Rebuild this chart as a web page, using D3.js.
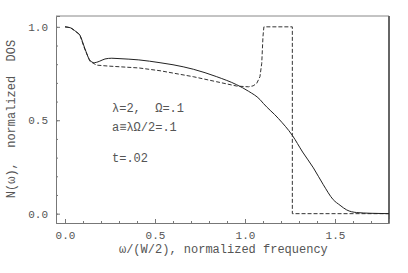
<!DOCTYPE html>
<html>
<head>
<meta charset="utf-8">
<script src="https://cdn.jsdelivr.net/npm/d3@7"></script>
<style>
  body { margin: 0; background: #fff; }
  text { font-family: "Liberation Mono", "DejaVu Sans Mono", monospace; fill: #555; }
</style>
</head>
<body>
<svg width="408" height="273"></svg>
<script>
// solid curve: [omega, N]
const solidOmega = [0.0, 0.03, 0.06, 0.083, 0.11, 0.139, 0.163, 0.19, 0.222, 0.26, 0.3, 0.41, 0.528, 0.6, 0.713, 0.843, 0.954, 1.02, 1.083, 1.102, 1.185, 1.263, 1.32, 1.38, 1.435, 1.49, 1.528, 1.565, 1.62, 1.7, 1.8]
const solidN = [1.0, 0.995, 0.975, 0.955, 0.885, 0.82, 0.808, 0.815, 0.828, 0.832, 0.83, 0.823, 0.808, 0.797, 0.773, 0.733, 0.69, 0.655, 0.611, 0.59, 0.51, 0.419, 0.33, 0.245, 0.155, 0.075, 0.045, 0.02, 0.006, 0.002, 0.0]

// dashed curve
const dashOmega = [0.0, 0.03, 0.06, 0.083, 0.11, 0.139, 0.176, 0.24, 0.41, 0.528, 0.713, 0.843, 0.954, 1.019, 1.045, 1.065, 1.083, 1.093, 1.1, 1.105, 1.263, 1.263, 1.8]
const dashN = [1.0, 0.995, 0.975, 0.955, 0.88, 0.815, 0.795, 0.79, 0.78, 0.765, 0.733, 0.706, 0.683, 0.679, 0.684, 0.697, 0.733, 0.805, 0.95, 1.0, 1.0, 0.0, 0.0]

const xTicks = [0, 0.5, 1.0, 1.5]
const yTicks = [0, 0.5, 1.0]
const xMinor = d3.range(0, 1.85, 0.1)
const yMinor = d3.range(0, 1.05, 0.1)

const notes = ['λ=2,  Ω=.1', 'a≡λΩ/2=.1', 't=.02']

const svg = d3.select('svg')
const margin = { top: 16, right: 19, bottom: 50, left: 56 }
const width = +svg.attr('width') - margin.left - margin.right
const height = +svg.attr('height') - margin.top - margin.bottom

const x = d3.scaleLinear().domain([-0.05, 1.8]).range([0, width])
const y = d3.scaleLinear().domain([-0.05, 1.058]).range([height, 0])

const g = svg.append('g').attr('transform', `translate(${margin.left},${margin.top})`)

// frame
g.append('line').attr('x1', 0).attr('x2', width).attr('y1', 0).attr('y2', 0)
  .attr('stroke', '#888').attr('stroke-width', 1)
g.append('line').attr('x1', width).attr('x2', width).attr('y1', 0).attr('y2', height)
  .attr('stroke', '#666').attr('stroke-width', 2)

// minor ticks
g.append('g').attr('transform', `translate(0,${height})`)
  .call(d3.axisBottom(x).tickValues(xMinor).tickSize(-2).tickFormat(''))
  .call(a => a.select('.domain').remove())
g.append('g')
  .call(d3.axisLeft(y).tickValues(yMinor).tickSize(-2).tickFormat(''))
  .call(a => a.select('.domain').remove())

// major ticks + labels
const xAxis = g.append('g').attr('transform', `translate(0,${height})`)
  .call(d3.axisBottom(x).tickValues(xTicks).tickSize(-4).tickPadding(8).tickFormat(d3.format('.1f')))
const yAxis = g.append('g')
  .call(d3.axisLeft(y).tickValues(yTicks).tickSize(-4).tickPadding(8).tickFormat(d3.format('.1f')))

svg.selectAll('.tick line').attr('stroke', '#777')
svg.selectAll('.domain').attr('stroke', '#777')
svg.selectAll('.tick text').attr('font-size', 11).attr('font-family', null).style('fill', '#555')

// curves
const line = d3.line().x(d => x(d[0])).y(d => y(d[1]))

g.append('path')
  .datum(d3.zip(dashOmega, dashN))
  .attr('fill', 'none')
  .attr('stroke', '#333')
  .attr('stroke-width', 1)
  .attr('stroke-dasharray', '4,2')
  .attr('d', line)

g.append('path')
  .datum(d3.zip(solidOmega, solidN))
  .attr('fill', 'none')
  .attr('stroke', '#222')
  .attr('stroke-width', 1)
  .attr('d', line.curve(d3.curveMonotoneX))

// annotation
const noteY = [112, 131, 162]
svg.selectAll('.note')
  .data(notes)
  .enter().append('text')
  .attr('class', 'note')
  .attr('x', 112)
  .attr('y', (d, i) => noteY[i])
  .attr('font-size', 12)
  .style('white-space', 'pre')
  .text(d => d)

// axis titles
svg.append('text')
  .attr('x', margin.left + x(0.88))
  .attr('y', 253)
  .attr('text-anchor', 'middle')
  .attr('font-size', 12)
  .text('ω/(W/2), normalized frequency')

svg.append('text')
  .attr('transform', 'translate(15,119) rotate(-90)')
  .attr('text-anchor', 'middle')
  .attr('font-size', 12)
  .style('white-space', 'pre')
  .text('N(ω),  normalized  DOS')
</script>
</body>
</html>
